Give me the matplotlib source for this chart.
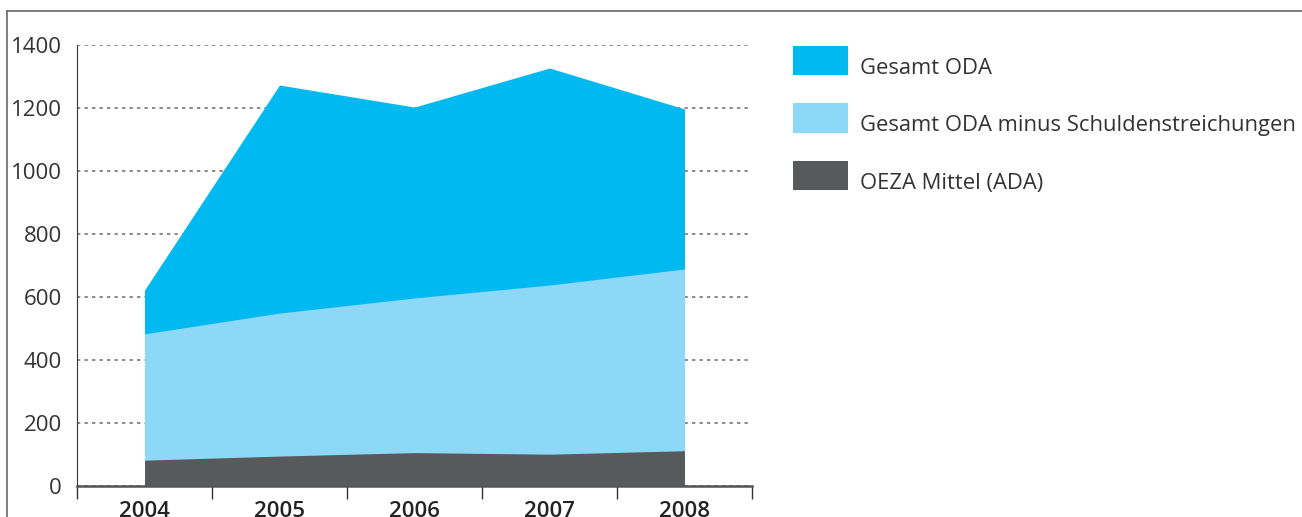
import matplotlib
matplotlib.use("Agg")
import matplotlib.pyplot as plt
from matplotlib.patches import Rectangle
from matplotlib.lines import Line2D
import numpy as np

years = ["2004", "2005", "2006", "2007", "2008"]
gesamt_oda = [622, 1273, 1203, 1327, 1197]
oda_minus_schulden = [483, 549, 597, 638, 689]
oeza_mittel = [82, 95, 106, 101, 112]
yticks = [0, 200, 400, 600, 800, 1000, 1200, 1400]
labels = ["Gesamt ODA", "Gesamt ODA minus Schuldenstreichungen", "OEZA Mittel (ADA)"]
colors = ["#00b9f0", "#8ed8f7", "#58595b"]

plt.rcParams['font.family'] = ['Open Sans', 'DejaVu Sans']

W, H = 1302, 517
fig = plt.figure(figsize=(W/100, H/100), dpi=100)
ax = fig.add_axes([77/W, 1-486/H, (752-77)/W, (486-45)/H])

x = np.arange(len(years))
ax.fill_between(x, 0, gesamt_oda, color=colors[0], lw=0, zorder=2)
ax.fill_between(x, 0, oda_minus_schulden, color=colors[1], lw=0, zorder=3)
ax.fill_between(x, 0, oeza_mittel, color=colors[2], lw=0, zorder=4)

ax.set_xlim(-0.5, len(years) - 0.5)
ax.set_ylim(0, 1400)
ax.set_yticks(yticks)
ax.set_yticklabels([str(v) for v in yticks], fontsize=16, color="#333333")
ax.tick_params(axis='y', length=0, pad=11)
ax.yaxis.grid(True, linestyle=(0, (2, 2.5)), color="#777777", lw=1.2, zorder=1)
ax.set_axisbelow(True)

ax.set_xticks(np.arange(-0.5, len(years), 1.0))
ax.set_xticklabels([])
ax.set_xticks(x, minor=True)
ax.set_xticklabels(years, minor=True, fontsize=16, fontweight='semibold', color="#222222")
ax.tick_params(axis='x', which='major', length=9, width=1, color="#333333", direction='out')
ax.tick_params(axis='x', which='minor', length=0, pad=11)

for s in ['top', 'right']:
    ax.spines[s].set_visible(False)
ax.spines['left'].set_color("#333333")
ax.spines['bottom'].set_color("#555555")
ax.spines['bottom'].set_linewidth(1.8)
ax.spines['left'].set_zorder(5)
ax.spines['bottom'].set_zorder(5)

# legend (manual, figure pixel coordinates)
for i, (lab, c) in enumerate(zip(labels, colors)):
    top = 46 + 57.5 * i
    fig.add_artist(Rectangle((793/W, 1-(top+29)/H), 55/W, 29/H, transform=fig.transFigure,
                             facecolor=c, edgecolor='none'))
    fig.text(860/W, 1-(top+28)/H, lab, fontsize=15.8, color="#333333",
             ha='left', va='baseline')

fig.add_artist(Line2D([7/W, 1], [1-11/H, 1-11/H], color="#666666", lw=1.2))
fig.add_artist(Line2D([7/W, 7/W], [0, 1-11/H], color="#666666", lw=1.2))

fig.savefig("out.png", dpi=100)
